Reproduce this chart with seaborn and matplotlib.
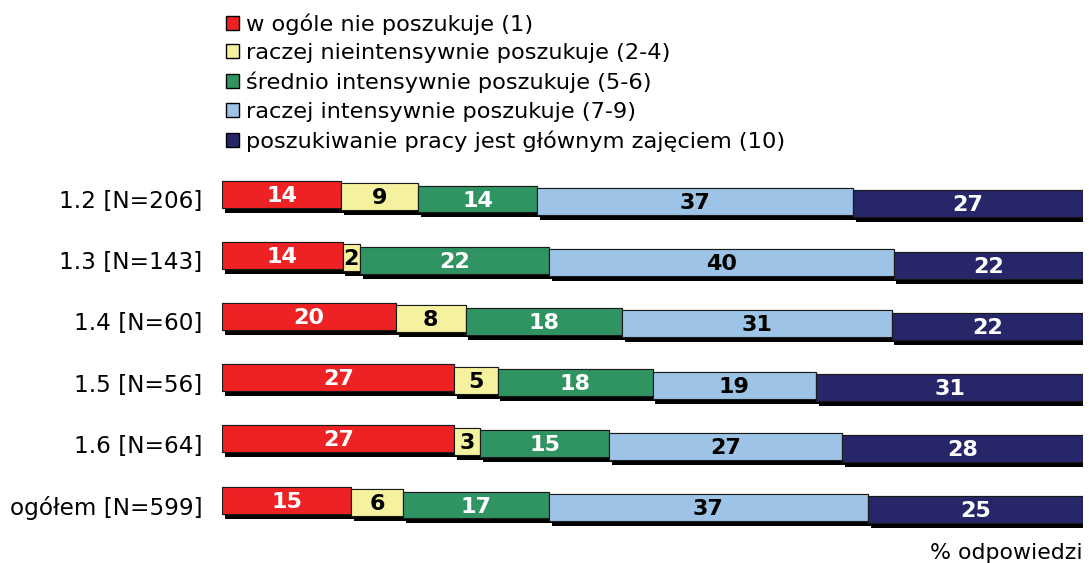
import numpy as np
import pandas as pd
import seaborn as sns
import matplotlib
matplotlib.use("Agg")
import matplotlib.pyplot as plt
from matplotlib.patches import Patch
import matplotlib.patheffects as pe

# ---- data ----
rows = ['1.2 [N=206]', '1.3 [N=143]', '1.4 [N=60]', '1.5 [N=56]', '1.6 [N=64]', 'ogółem [N=599]']
series_names = ['w ogóle nie poszukuje (1)',
                'raczej nieintensywnie poszukuje (2-4)',
                'średnio intensywnie poszukuje (5-6)',
                'raczej intensywnie poszukuje (7-9)',
                'poszukiwanie pracy jest głównym zajęciem (10)']
nie_poszukuje = [14, 14, 20, 27, 27, 15]
nieintensywnie = [9, 2, 8, 5, 3, 6]
srednio = [14, 22, 18, 18, 15, 17]
intensywnie = [37, 40, 31, 19, 27, 37]
glowne_zajecie = [27, 22, 22, 31, 28, 25]

colors = ['#EE2224', '#F5F29F', '#2F9462', '#9DC3E6', '#262669']
text_colors = ['white', 'black', 'white', 'black', 'white']

sns.set_theme(style='white')
plt.rcParams['font.family'] = ['DejaVu Sans']
plt.rcParams['text.color'] = 'black'
plt.rcParams['ytick.color'] = 'black'
plt.rcParams['ytick.labelcolor'] = 'black'

W, H = 1089, 563
fig = plt.figure(figsize=(W / 100, H / 100), dpi=100)
top_px, bot_px = 168.4, 535.6
ax = fig.add_axes([222 / W, 1 - bot_px / H, (1083 - 222) / W, (bot_px - top_px) / H])

vals = np.array([nie_poszukuje, nieintensywnie, srednio, intensywnie, glowne_zajecie], dtype=float)
shares = vals / vals.sum(axis=0) * 100
left = np.zeros(len(rows))
step = 0.04
for s in range(len(series_names)):
    ypos = np.arange(len(rows)) + (s - 2) * step
    df = pd.DataFrame({'y': ypos, 'x': shares[s]})
    n_before = len(ax.patches)
    sns.barplot(data=df, x='x', y='y', orient='y', native_scale=True,
                color=colors[s], saturation=1, width=0.44, errorbar=None,
                left=left.copy(), edgecolor='#1a1a1a', linewidth=0.8, ax=ax)
    for p in ax.patches[n_before:]:
        p.set_path_effects([pe.withSimplePatchShadow(offset=(2.0, -3.6), shadow_rgbFace='black', alpha=1.0),
                            pe.Normal()])
    for i in range(len(rows)):
        ax.text(left[i] + shares[s][i] / 2, ypos[i] + 0.025, f"{int(vals[s][i])}",
                ha='center', va='center', fontsize=16, fontweight='bold', color=text_colors[s])
    left += shares[s]

ax.set_xlim(0, 100)
ax.set_ylim(len(rows) - 0.5, -0.5)
ax.set_yticks(np.arange(len(rows)))
ax.set_yticklabels(rows, fontsize=16.7, color='black')
ax.tick_params(axis='y', length=0, pad=14)
ax.set_xticks([])
ax.set_xlabel('')
ax.set_ylabel('')
for sp in ax.spines.values():
    sp.set_visible(False)

handles = [Patch(facecolor=c, edgecolor='black', linewidth=1.0) for c in colors]
fig.legend(handles, series_names, loc='upper left', bbox_to_anchor=(226 / W, 1 - 13.5 / H),
           frameon=False, fontsize=16.2, handlelength=0.58, handleheight=0.58,
           handletextpad=0.33, labelspacing=0.375, borderaxespad=0, borderpad=0,
           labelcolor='black')

fig.text(1083 / W, 1 - 553 / H, '% odpowiedzi', ha='right', va='center', fontsize=15.8, color='black')

fig.savefig('out.png', dpi=100)
